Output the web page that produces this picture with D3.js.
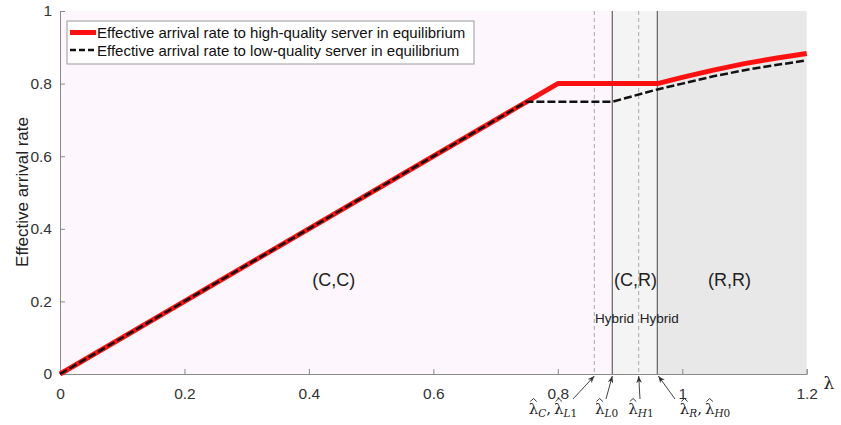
<!DOCTYPE html>
<html><head><meta charset="utf-8">
<script src="https://cdn.jsdelivr.net/npm/d3@7"></script>
<style>body{margin:0;background:#fff}svg{display:block}text{font-family:"Liberation Sans",Arial,sans-serif}</style>
</head><body><svg id="c" width="841" height="425"></svg>
<script>
// ---- data ----
const xTicks = [0, 0.2, 0.4, 0.6, 0.8, 1, 1.2];
const yTicks = [0, 0.2, 0.4, 0.6, 0.8, 1];
const lambdaHigh = [0, 0.8, 0.96, 1.0, 1.05, 1.1, 1.15, 1.2];
const rateHigh   = [0, 0.8, 0.8, 0.817, 0.837, 0.855, 0.870, 0.883];
const lambdaLow  = [0, 0.75, 0.8876, 0.96, 1.0, 1.05, 1.1, 1.15, 1.2];
const rateLow    = [0, 0.75, 0.75, 0.784, 0.800, 0.820, 0.837, 0.851, 0.864];
const thresholds = [0.8587, 0.8876, 0.930, 0.960];          // λC/λL1, λL0, λH1, λR/λH0
const thresholdSolid = [false, true, false, true];
const regions = [[0, 0.8876, "#fdf7fd"], [0.8876, 0.960, "#f4f4f4"], [0.960, 1.2, "#e8e8e8"]];
const regionLabels = [["(C,C)", 0.44, 0.26], ["(C,R)", 0.925, 0.26], ["(R,R)", 1.076, 0.26]];
const hybridLabels = [["Hybrid", 0.891], ["Hybrid", 0.963]];
const legendNames = ["Effective arrival rate to high-quality server in equilibrium",
                     "Effective arrival rate to low-quality server in equilibrium"];
const annotations = [
  {subs: [["C", ""], ["L", "1"]], cx: 553, sx: 573},
  {subs: [["L", "0"]], cx: 606.5, sx: 606},
  {subs: [["H", "1"]], cx: 641, sx: 640},
  {subs: [["R", ""], ["H", "0"]], cx: 705, sx: 675}
];

const svg = d3.select("#c");
const x = d3.scaleLinear().domain([0, 1.2]).range([60, 806.7]);
const y = d3.scaleLinear().domain([0, 1]).range([374, 11]);

// region backgrounds
svg.selectAll("rect.reg").data(regions).join("rect")
  .attr("x", d => x(d[0])).attr("y", y(1))
  .attr("width", d => x(d[1]) - x(d[0])).attr("height", y(0) - y(1))
  .attr("fill", d => d[2]);

// vertical threshold lines
svg.selectAll("line.th").data(thresholds).join("line")
  .attr("x1", d => x(d)).attr("x2", d => x(d)).attr("y1", y(1)).attr("y2", y(0))
  .attr("stroke", (d, i) => thresholdSolid[i] ? "#6e6e6e" : "#a8a8a8")
  .attr("stroke-width", (d, i) => thresholdSolid[i] ? 1.3 : 1)
  .attr("stroke-dasharray", (d, i) => thresholdSolid[i] ? null : "4,3");

// axes
const gx = svg.append("g").attr("transform", `translate(0,${y(0)})`)
  .call(d3.axisBottom(x).tickValues(xTicks).tickSize(-5).tickPadding(10).tickFormat(d3.format("~g")));
const gy = svg.append("g").attr("transform", `translate(${x(0)},0)`)
  .call(d3.axisLeft(y).tickValues(yTicks).tickSize(-5).tickPadding(8).tickFormat(d3.format("~g")));
[gx, gy].forEach(g => {
  g.select(".domain").attr("stroke", "#8a8a8a");
  g.selectAll(".tick line").attr("stroke", "#8a8a8a");
  g.selectAll(".tick text").attr("fill", "#333").style("font-size", "15.5px")
   .style("font-family", '"Liberation Sans",Arial,sans-serif');
});
gx.selectAll(".tick text").attr("dy", "0.95em");

// lines
const line = d3.line().x(d => x(d[0])).y(d => y(d[1]));
svg.append("path").datum(d3.zip(lambdaHigh, rateHigh)).attr("d", line)
  .attr("fill", "none").attr("stroke", "#ff1010").attr("stroke-width", 5).attr("stroke-linejoin", "round");
svg.append("path").datum(d3.zip(lambdaLow, rateLow)).attr("d", line)
  .attr("fill", "none").attr("stroke", "#111").attr("stroke-width", 2.5).attr("stroke-dasharray", "8,3");

// region labels
svg.selectAll("text.rl").data(regionLabels).join("text")
  .attr("x", d => x(d[1])).attr("y", d => y(d[2]) + 6).attr("text-anchor", "middle")
  .style("font-size", "18px").attr("fill", "#222").text(d => d[0]);
svg.selectAll("text.hy").data(hybridLabels).join("text")
  .attr("x", d => x(d[1])).attr("y", 323).attr("text-anchor", "middle")
  .style("font-size", "13.5px").attr("fill", "#222").text(d => d[0]);

// legend
const lg = svg.append("g");
lg.append("rect").attr("x", 67).attr("y", 21).attr("width", 407).attr("height", 43)
  .attr("fill", "#fff").attr("stroke", "#9a9a9a").attr("stroke-width", 1);
lg.append("line").attr("x1", 70).attr("x2", 96).attr("y1", 32.5).attr("y2", 32.5)
  .attr("stroke", "#ff1010").attr("stroke-width", 5);
lg.append("line").attr("x1", 70).attr("x2", 96).attr("y1", 50).attr("y2", 50)
  .attr("stroke", "#111").attr("stroke-width", 2.5).attr("stroke-dasharray", "6,3");
lg.selectAll("text").data(legendNames).join("text")
  .attr("x", 97).attr("y", (d, i) => 38 + i * 17.5).style("font-size", "15px").attr("fill", "#111").text(d => d);

// axis labels
svg.append("text").attr("transform", "translate(28,192) rotate(-90)").attr("text-anchor", "middle")
  .style("font-size", "17px").attr("fill", "#222").text("Effective arrival rate");
svg.append("text").attr("x", 829).attr("y", 389).attr("text-anchor", "middle")
  .style("font-size", "17px").style("font-family", '"DejaVu Serif",serif').attr("fill", "#222").text("λ");

// threshold annotations
svg.append("defs").append("marker").attr("id", "ah").attr("viewBox", "0 0 10 10").attr("refX", 10).attr("refY", 5)
  .attr("markerWidth", 7).attr("markerHeight", 7).attr("orient", "auto")
  .append("path").attr("d", "M0,1 L10,5 L0,9 L3,5 Z").attr("fill", "#333");
const base = 414;
annotations.forEach((a, i) => {
  svg.append("line").attr("x1", a.sx).attr("y1", 399).attr("x2", x(thresholds[i]) + (i === 3 ? 1 : 0)).attr("y2", 376)
    .attr("stroke", "#444").attr("stroke-width", 1).attr("marker-end", "url(#ah)");
  const g = svg.append("g");
  let cur = 0;
  const piece = (txt, size, italic, dy) => {
    const t = g.append("text").attr("x", cur).attr("y", base + dy)
      .style("font-family", '"DejaVu Serif",serif').style("font-size", size + "px")
      .style("font-style", italic ? "italic" : "normal").attr("fill", "#222").text(txt);
    const w = t.node().getComputedTextLength();
    const x0 = cur; cur += w; return [x0, w];
  };
  a.subs.forEach((s, j) => {
    if (j > 0) { piece(",", 15, false, 0); cur += 3; }
    const [lx, lw] = piece("λ", 15, false, 0);
    const hc = lx + lw / 2;
    g.append("path").attr("d", `M${hc - 3.2},${base - 12.5} L${hc},${base - 15.5} L${hc + 3.2},${base - 12.5}`)
      .attr("fill", "none").attr("stroke", "#222").attr("stroke-width", 0.9);
    piece(s[0], 10.5, true, 3);
    if (s[1]) piece(s[1], 10.5, false, 3);
  });
  g.attr("transform", `translate(${a.cx - cur / 2},0)`);
});
</script></body></html>
